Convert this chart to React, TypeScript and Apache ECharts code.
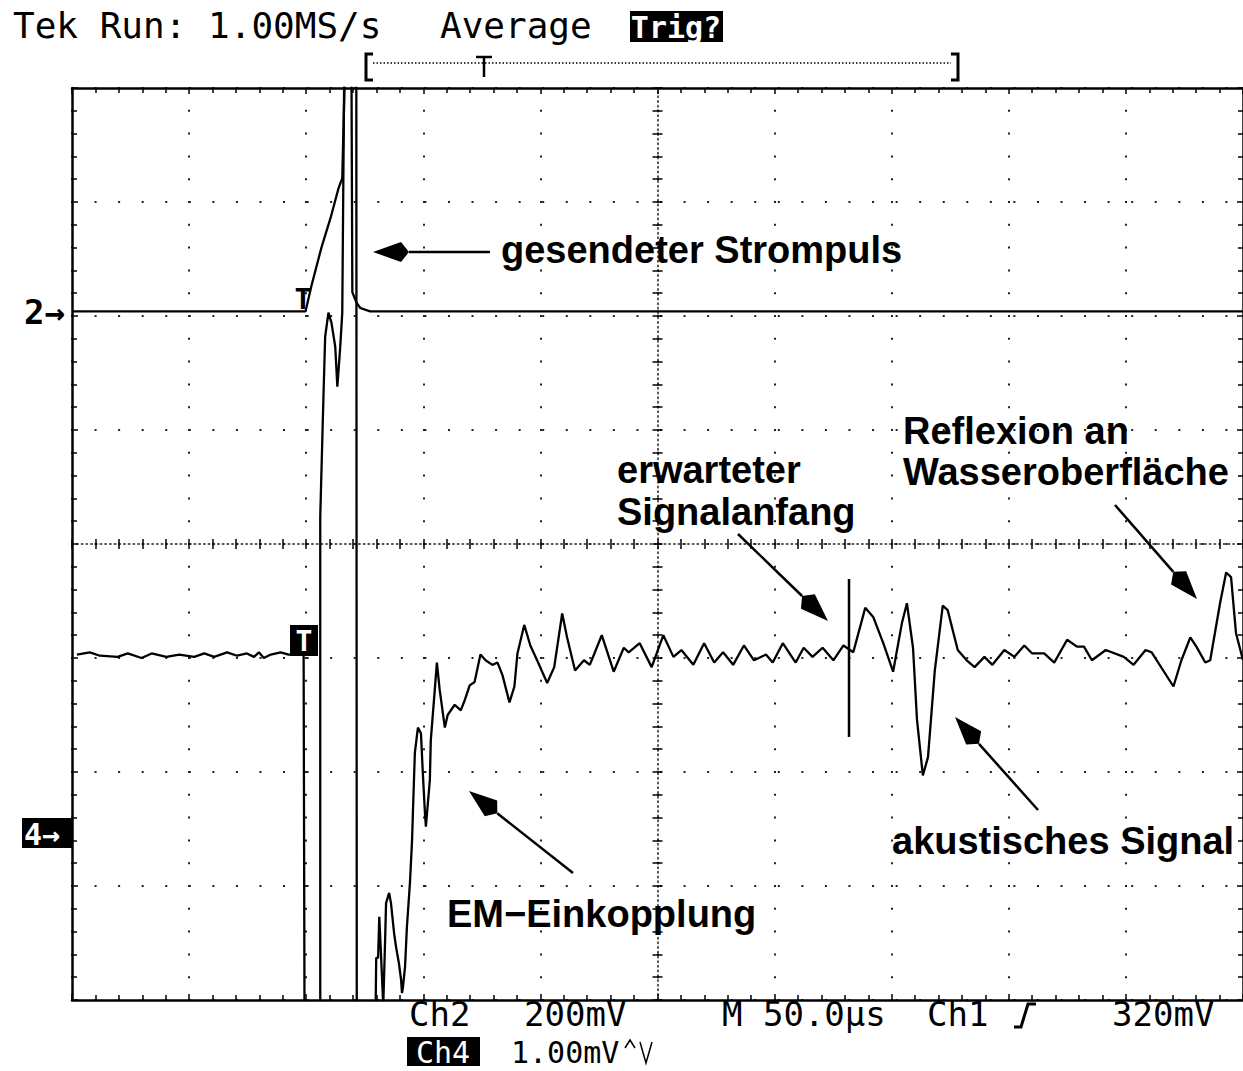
import React, { useEffect, useRef } from "react";
import * as echarts from "echarts";

// ---- Data (time in µs, 50 µs/div; amplitude in screen divisions, 0 = centre) ----
const TIME_MIN = -250;
const TIME_MAX = 250;
const TIME_DIV = 50;
const DIV_MIN = -4;
const DIV_MAX = 4;
const DIV_STEP = 1;

// Ch2: transmitted current pulse
const ch2Time = [-250, -151.1, -150.3, -147.7, -143.5, -139.6, -136.2, -134.6, -133.3, -130.7, -130.3, -128.6, -126.9, -122.7, 250];
const ch2Div = [2.04, 2.04, 2.04, 2.27, 2.6, 2.86, 3.12, 3.21, 4.3, 4.3, 2.21, 2.12, 2.07, 2.04, 2.04];

// Ch4: hydrophone (acoustic) signal
const ch4Time = [
  -247.9, -242.4, -238.1, -230.5, -226.2, -220.3, -216.0, -209.7, -204.2, -197.8, -193.5, -189.3, -183.8, -179.5,
  -175.3, -172.3, -170.2, -168.1, -165.1, -160.9, -157.5, -153.2, -151.1, -150.7, -144.0, -144.0, -142.6, -141.9,
  -140.5, -139.2, -137.6, -136.7, -135.5, -134.6, -133.7, -128.6, -128.4, -120.5, -120.1, -119.3, -118.8, -118.0,
  -117.1, -116.3, -115.9, -114.6, -113.8, -113.3, -112.5, -111.6, -110.4, -109.5, -109.1, -108.7, -107.8, -107.0,
  -105.7, -104.8, -104.4, -103.6, -102.3, -101.0, -100.2, -99.3, -98.9, -97.2, -96.8, -95.1, -94.2, -93.0, -90.8,
  -89.6, -86.6, -84.0, -82.3, -80.2, -78.1, -75.6, -73.4, -70.5, -68.3, -66.2, -63.2, -61.1, -59.8, -56.9, -54.3,
  -51.4, -47.1, -44.1, -40.7, -38.6, -35.2, -31.4, -28.9, -23.8, -18.7, -14.4, -12.3, -7.6, -2.5, 2.5, 6.8, 10.2,
  15.3, 19.9, 24.2, 28.0, 32.3, 36.9, 41.2, 46.3, 49.2, 53.5, 59.0, 62.4, 66.2, 70.5, 75.1, 79.4, 83.6, 88.7, 92.1,
  96.4, 100.6, 104.4, 106.5, 109.1, 110.8, 113.3, 115.5, 118.4, 121.8, 123.9, 128.2, 132.0, 135.4, 139.6, 143.0,
  148.1, 152.4, 156.6, 160.0, 165.1, 169.4, 174.9, 179.1, 182.1, 185.5, 191.4, 199.1, 203.3, 208.4, 211.0, 220.3,
  223.7, 227.5, 230.1, 233.9, 236.0, 240.2, 242.8, 244.9, 247.0, 250.0,
];
const ch4Div = [
  -0.97, -0.95, -0.98, -0.99, -0.96, -1.0, -0.96, -0.99, -0.97, -0.99, -0.96, -0.99, -0.95, -0.98,
  -0.96, -0.99, -0.95, -1.0, -0.97, -0.95, -0.97, -0.97, -0.97, -4.3, -4.3, 0.24, 1.32, 1.82,
  2.03, 1.94, 1.73, 1.38, 1.72, 2.03, 4.3, 4.3, -4.3, -4.3, -3.63, -3.63, -3.27, -3.63,
  -4.05, -3.47, -3.15, -3.06, -3.15, -3.25, -3.41, -3.54, -3.68, -3.82, -3.94, -3.89, -3.71, -3.36,
  -2.97, -2.6, -2.33, -1.83, -1.61, -1.66, -2.01, -2.36, -2.48, -2.07, -1.72, -1.28, -1.04, -1.28, -1.61,
  -1.5, -1.41, -1.46, -1.37, -1.24, -1.21, -0.97, -1.02, -1.06, -1.04, -1.15, -1.39, -1.25, -0.96, -0.71, -0.89,
  -1.02, -1.22, -1.08, -0.61, -0.82, -1.11, -1.02, -1.06, -0.8, -1.12, -0.91, -0.95, -0.87, -1.08, -0.8, -0.99, -0.93,
  -1.06, -0.87, -1.04, -0.95, -1.06, -0.89, -1.02, -0.97, -1.04, -0.87, -1.04, -0.91, -0.99, -0.91, -1.02, -0.89, -0.95, -0.56, -0.64,
  -0.87, -1.12, -0.69, -0.52, -0.91, -1.54, -2.03, -1.87, -1.11, -0.54, -0.58, -0.93, -1.02, -1.08, -0.99, -1.06,
  -0.93, -0.99, -0.89, -0.96, -0.96, -1.04, -0.84, -0.9, -0.9, -1.02, -0.93, -0.99, -1.06, -0.93, -0.95, -1.25,
  -1.02, -0.82, -0.9, -1.04, -1.02, -0.52, -0.25, -0.29, -0.78, -1.02,
];

// ---- Texts ----
const headerTexts = ["Tek Run: 1.00MS/s", "Average", "Trig?"];
const footerTexts = ["Ch2", "200mV", "M 50.0µs", "Ch1", "320mV", "Ch4", "1.00mV"];
const annotations = [
  "gesendeter Strompuls",
  "Reflexion an",
  "Wasseroberfläche",
  "erwarteter",
  "Signalanfang",
  "akustisches Signal",
  "EM\u2212Einkopplung",
];

const MONO = '"DejaVu Sans Mono", monospace';
const SANS = '"Liberation Sans", Arial, sans-serif';
const DOT = "#222";

function kite(tip: number[], tail: number[]) {
  const dx = tail[0] - tip[0];
  const dy = tail[1] - tip[1];
  const d = Math.hypot(dx, dy);
  const ux = dx / d;
  const uy = dy / d;
  const px = -uy;
  const py = ux;
  const len = 36;
  const wide = 28;
  const half = 10;
  return [
    [tip[0], tip[1]],
    [tip[0] + ux * wide + px * half, tip[1] + uy * wide + py * half],
    [tip[0] + ux * len, tip[1] + uy * len],
    [tip[0] + ux * wide - px * half, tip[1] + uy * wide - py * half],
  ];
}

function arrow(tip: number[], tail: number[]) {
  const pts = kite(tip, tail);
  return [
    {
      type: "line",
      z: 100,
      shape: { x1: pts[2][0], y1: pts[2][1], x2: tail[0], y2: tail[1] },
      style: { stroke: "#000", lineWidth: 2.5 },
    },
    { type: "polygon", z: 100, shape: { points: pts }, style: { fill: "#000" } },
  ];
}

function txt(text: string, x: number, y: number, font: any, extra: any = {}) {
  return {
    type: "text",
    z: 100,
    x,
    y,
    style: {
      text,
      fill: extra.fill || "#000",
      fontSize: font.size,
      fontFamily: font.family,
      fontWeight: font.weight || "normal",
      align: extra.align || "left",
      verticalAlign: "middle",
    },
  };
}

export default function App() {
  const ref = useRef<HTMLDivElement>(null);

  useEffect(() => {
    if (!ref.current) return;
    const chart = echarts.init(ref.current, undefined, { renderer: "svg" });

    const baseX: any = {
      type: "value",
      min: TIME_MIN,
      max: TIME_MAX,
      interval: TIME_DIV,
      axisLabel: { show: false },
      splitLine: { show: false },
    };
    const baseY: any = {
      type: "value",
      min: DIV_MIN,
      max: DIV_MAX,
      interval: DIV_STEP,
      axisLabel: { show: false },
      splitLine: { show: false },
    };
    const borderLine = { show: true, onZero: false, lineStyle: { color: "#000", width: 2.5 } };
    const tickIn = { show: true, inside: true, length: 6, lineStyle: { color: "#000", width: 1.5 } };
    const tickOut = { show: true, inside: false, length: 5, lineStyle: { color: "#000", width: 1.5 } };
    const minorIn = { show: true, splitNumber: 5, length: 5, lineStyle: { color: "#000", width: 1.5 } };
    const centreLine = {
      show: true,
      onZero: true,
      onZeroAxisIndex: 0,
      lineStyle: { color: DOT, width: 1.5, type: [1.5, 3.2] },
    };
    const hiddenCentre = {
      show: true,
      onZero: true,
      onZeroAxisIndex: 0,
      lineStyle: { color: "rgba(0,0,0,0)", width: 1 },
    };

    const a = annotations;
    const h = headerTexts;
    const f = footerTexts;
    const bold38 = { size: 38, family: SANS, weight: "bold" };
    const mono36 = { size: 36, family: MONO };
    const mono34 = { size: 34, family: MONO };
    const mono30 = { size: 30, family: MONO };

    const graphic: any[] = [
      // header
      txt(h[0], 13, 25, mono36),
      txt(h[1], 440, 25, mono36),
      { type: "rect", z: 100, shape: { x: 630, y: 11, width: 93, height: 31 }, style: { fill: "#000" } },
      txt(h[2], 676, 27, { size: 30, family: MONO, weight: "bold" }, { fill: "#fff", align: "center" }),
      // trigger window bracket
      { type: "polyline", z: 100, shape: { points: [[373, 54], [366, 54], [366, 80], [373, 80]] }, style: { stroke: "#000", lineWidth: 3, fill: null } },
      { type: "polyline", z: 100, shape: { points: [[951, 54], [958, 54], [958, 80], [951, 80]] }, style: { stroke: "#000", lineWidth: 3, fill: null } },
      { type: "line", z: 100, shape: { x1: 373, y1: 63, x2: 951, y2: 63 }, style: { stroke: "#000", lineWidth: 1.5, lineDash: [1.5, 2] } },
      { type: "line", z: 100, shape: { x1: 476, y1: 57, x2: 492, y2: 57 }, style: { stroke: "#000", lineWidth: 2.5 } },
      { type: "line", z: 100, shape: { x1: 484, y1: 57, x2: 484, y2: 77 }, style: { stroke: "#000", lineWidth: 2.5 } },
      // channel markers
      txt("2\u2192", 24, 312, { size: 34, family: MONO, weight: "bold" }),
      { type: "rect", z: 100, shape: { x: 22, y: 818, width: 50, height: 30 }, style: { fill: "#000" } },
      txt("4\u2192", 24, 834, { size: 30, family: MONO, weight: "bold" }, { fill: "#fff" }),
      // trigger markers on traces
      txt("T", 303, 299, { size: 28, family: MONO, weight: "bold" }, { align: "center" }),
      { type: "rect", z: 100, shape: { x: 290, y: 625, width: 28, height: 31 }, style: { fill: "#000" } },
      txt("T", 304, 641, { size: 28, family: MONO, weight: "bold" }, { fill: "#fff", align: "center" }),
      // footer row 1
      txt(f[0], 409, 1014, mono34),
      txt(f[1], 524, 1014, mono34),
      txt(f[2], 722, 1014, mono34),
      txt(f[3], 927, 1014, mono34),
      { type: "polyline", z: 100, shape: { points: [[1014, 1027], [1021, 1027], [1028, 1004], [1036, 1004]] }, style: { stroke: "#000", lineWidth: 3, fill: null } },
      txt(f[4], 1112, 1014, mono34),
      // footer row 2
      { type: "rect", z: 100, shape: { x: 407, y: 1037, width: 73, height: 29 }, style: { fill: "#000" } },
      txt(f[5], 443, 1052, mono30, { fill: "#fff", align: "center" }),
      txt(f[6], 511, 1052, mono30),
      { type: "polyline", z: 100, shape: { points: [[625, 1048], [630, 1040], [635, 1048]] }, style: { stroke: "#000", lineWidth: 1.5, fill: null } },
      { type: "polyline", z: 100, shape: { points: [[640, 1042], [646, 1063], [652, 1042]] }, style: { stroke: "#000", lineWidth: 1.5, fill: null } },
      // annotations
      txt(a[0], 501, 250, bold38),
      txt(a[1], 903, 431, bold38),
      txt(a[2], 903, 472, bold38),
      txt(a[3], 617, 470, bold38),
      txt(a[4], 617, 512, bold38),
      txt(a[5], 892, 841, bold38),
      txt(a[6], 447, 914, bold38),
      ...arrow([373, 252], [490, 252]),
      ...arrow([828, 621], [738, 534]),
      ...arrow([1197, 599], [1115, 505]),
      ...arrow([955, 717], [1038, 810]),
      ...arrow([469, 791], [573, 873]),
      { type: "line", z: 100, shape: { x1: 849, y1: 579, x2: 849, y2: 737 }, style: { stroke: "#000", lineWidth: 2.5 } },
    ];

    chart.setOption({
      animation: false,
      backgroundColor: "#fff",
      grid: { left: 72, top: 88, width: 1178, height: 912, containLabel: false },
      xAxis: [
        {
          ...baseX,
          position: "bottom",
          axisLine: borderLine,
          axisTick: tickIn,
          minorTick: minorIn,
          splitLine: { show: true, lineStyle: { color: DOT, width: 2, type: [2, 20.8], dashOffset: 1 } },
        },
        { ...baseX, position: "top", axisLine: borderLine, axisTick: tickIn, minorTick: minorIn },
        { ...baseX, position: "bottom", axisLine: centreLine, axisTick: { ...tickIn, length: 5 }, minorTick: minorIn },
        { ...baseX, position: "bottom", axisLine: hiddenCentre, axisTick: tickOut, minorTick: minorIn },
      ],
      yAxis: [
        {
          ...baseY,
          position: "left",
          axisLine: borderLine,
          axisTick: tickIn,
          minorTick: minorIn,
          splitLine: { show: true, lineStyle: { color: DOT, width: 2, type: [2, 21.56], dashOffset: 1 } },
        },
        { ...baseY, position: "right", axisLine: borderLine, axisTick: tickIn, minorTick: minorIn },
        { ...baseY, position: "left", axisLine: centreLine, axisTick: { ...tickIn, length: 5 }, minorTick: minorIn },
        { ...baseY, position: "left", axisLine: hiddenCentre, axisTick: tickOut, minorTick: minorIn },
      ],
      series: [
        {
          name: "Ch2",
          type: "line",
          xAxisIndex: 0,
          yAxisIndex: 0,
          data: ch2Time.map((t, i) => [t, ch2Div[i]]),
          symbol: "none",
          showSymbol: false,
          clip: true,
          lineStyle: { color: "#000", width: 2.3 },
          z: 5,
        },
        {
          name: "Ch4",
          type: "line",
          xAxisIndex: 0,
          yAxisIndex: 0,
          data: ch4Time.map((t, i) => [t, ch4Div[i]]),
          symbol: "none",
          showSymbol: false,
          clip: true,
          lineStyle: { color: "#000", width: 2.3 },
          z: 5,
        },
      ],
      graphic,
    });

    return () => chart.dispose();
  }, []);

  return (
    <div
      ref={ref}
      style={{ position: "fixed", left: 0, top: 0, width: 1243, height: 1071, background: "#fff" }}
    />
  );
}
